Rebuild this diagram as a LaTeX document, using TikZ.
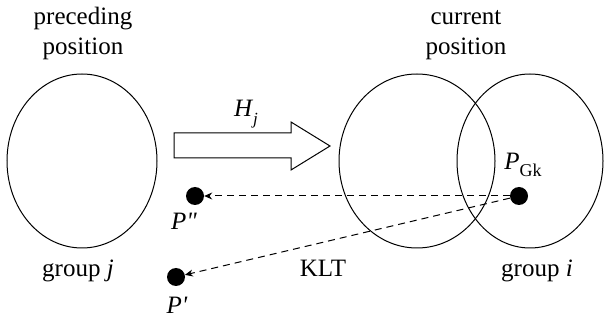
\documentclass[tikz,border=0pt]{standalone}
\usepackage{fontspec}
\setmainfont{Liberation Serif}
\newfontfamily\rawserif{Liberation Serif}
\usetikzlibrary{arrows.meta}
\begin{document}
\begin{tikzpicture}[x=1pt,y=-1pt,
  lbl/.style={anchor=base,inner sep=0pt,font=\fontsize{25}{30}\selectfont},
  grp/.style={draw,line width=1pt},
  dot/.style={circle,fill=black,minimum size=18pt,inner sep=0pt},
  dasharrow/.style={draw,line width=1pt,dash pattern=on 7pt off 5pt,-{Stealth[length=8pt,width=7pt]}},
  blockarrow/.style={draw,line width=1pt,line join=miter}]
\useasboundingbox (0,0) rectangle (605,320);
% titles
\node[lbl] (t1a) at (83,25) {preceding};
\node[lbl] (t1b) at (83,55) {position};
\node[lbl] (t2a) at (466,25) {current};
\node[lbl] (t2b) at (466,55) {position};
% groups
\draw[grp] (82,161) ellipse [x radius=75, y radius=87];
\draw[grp] (417,161) ellipse [x radius=78, y radius=87];
\draw[grp] (530,161) ellipse [x radius=73, y radius=87];
% block arrow
\draw[blockarrow] (174,133) -- (291,133) -- (291,122) -- (330,146) -- (291,170) -- (291,158) -- (174,158) -- cycle;
\node[lbl] (hj) at (246,117) {\textit{H}\raisebox{-0.3em}{\fontsize{17}{20}\selectfont\textit{j}}};
% points
\node[dot] (gk) at (519,196) {};
\node[dot] (pdd) at (195,196) {};
\node[dot] (pd) at (176,277) {};
\node[lbl] (gkl) at (523,170) {\textit{P}\raisebox{-0.25em}{\fontsize{18}{20}\selectfont Gk}};
\node[lbl] (pddl) at (184,230) {\textit{P}{\rawserif\itshape "}};
\node[lbl] (pdl) at (177,314) {\textit{P}{\rawserif\itshape '}};
% connectors
\draw[dasharrow] (gk) -- (pdd);
\draw[dasharrow] (gk) -- (pd);
% labels
\node[lbl] (klt) at (323,277) {KLT};
\node[lbl] (gj) at (78,277) {group \textit{j}};
\node[lbl] (gi) at (537,277) {group \textit{i}};
\end{tikzpicture}
\end{document}
